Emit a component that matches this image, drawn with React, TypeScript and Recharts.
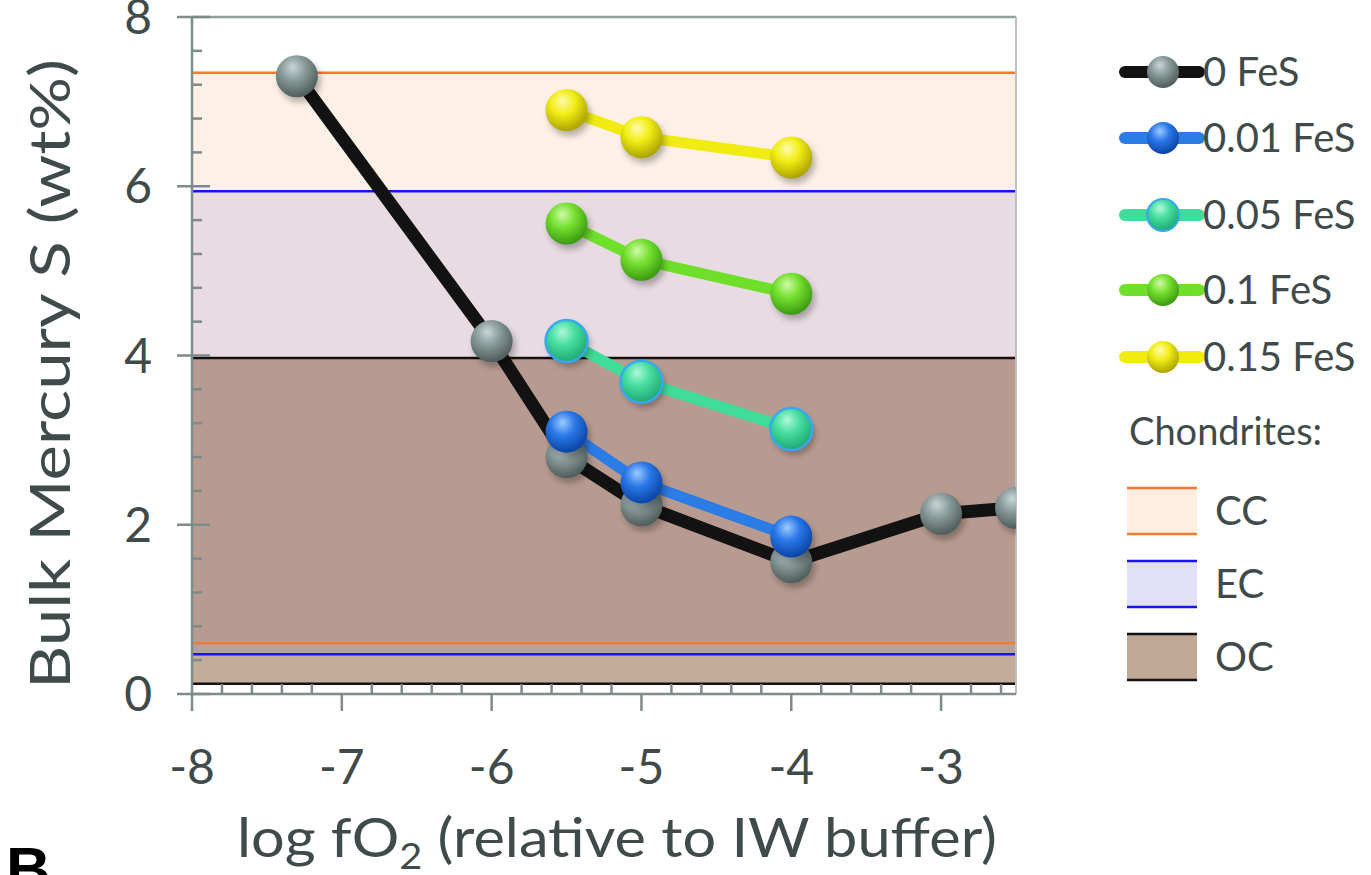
import React from "react";
import {
  Line,
  LineChart,
  ReferenceArea,
  ReferenceLine,
  XAxis,
  YAxis,
} from "recharts";

// log fO2 (relative to IW) and bulk S (wt%)
const fo2Base = [-7.3, -6, -5.5, -5, -4, -3, -2.5];
const sulfur0 = [7.3, 4.17, 2.8, 2.23, 1.56, 2.13, 2.2];

const fo2FeS = [-5.5, -5, -4];
const sulfur001 = [3.1, 2.5, 1.86];
const sulfur005 = [4.17, 3.69, 3.13];
const sulfur01 = [5.56, 5.13, 4.73];
const sulfur015 = [6.9, 6.58, 6.34];

// chondrite ranges
const bandNames = ["CC", "EC", "OC"];
const bandLow = [0.6, 0.47, 0.12];
const bandHigh = [7.34, 5.94, 3.97];

const xTicks = [
  -8, -7.8, -7.6, -7.4, -7.2, -7, -6.8, -6.6, -6.4, -6.2, -6, -5.8, -5.6,
  -5.4, -5.2, -5, -4.8, -4.6, -4.4, -4.2, -4, -3.8, -3.6, -3.4, -3.2, -3,
  -2.8, -2.6,
];
const yTicks = [
  0, 0.4, 0.8, 1.2, 1.6, 2, 2.4, 2.8, 3.2, 3.6, 4, 4.4, 4.8, 5.2, 5.6, 6,
  6.4, 6.8, 7.2, 7.6, 8,
];

const FONT = "Lato, 'Open Sans', sans-serif";
const INK = "#3f4a4a";
const AXIS = "#7d8b8a";

const bandEdge: Record<string, string> = {
  CC: "#f47a2c",
  EC: "#1414f5",
  OC: "#111111",
};
const bandFill: Record<string, string> = {
  CC: "#fdf1e7",
  "CC+EC": "#e8dce2",
  "CC+EC+OC": "#b89b90",
  "EC+OC": "#b3a1a7",
  OC: "#c3ad9a",
};
const legendBoxFill: Record<string, string> = {
  CC: "#fdeedf",
  EC: "#e2e0f8",
  OC: "#bfa894",
};

type Series = {
  name: string;
  xs: number[];
  ys: number[];
  line: string;
  width: number;
  grad: string;
  rim?: string;
};

const series: Series[] = [
  { name: "0 FeS", xs: fo2Base, ys: sulfur0, line: "#121212", width: 13, grad: "gGray" },
  { name: "0.01 FeS", xs: fo2FeS, ys: sulfur001, line: "#2c7ce6", width: 11, grad: "gBlue" },
  { name: "0.05 FeS", xs: fo2FeS, ys: sulfur005, line: "#3fdc9a", width: 11, grad: "gTeal", rim: "#38a8f0" },
  { name: "0.1 FeS", xs: fo2FeS, ys: sulfur01, line: "#6ee02a", width: 11, grad: "gGreen" },
  { name: "0.15 FeS", xs: fo2FeS, ys: sulfur015, line: "#f0ec12", width: 11, grad: "gYellow" },
];

const gradients: [string, string, string, string][] = [
  ["gGray", "#c9d6d6", "#889a9a", "#4f5d5b"],
  ["gBlue", "#9ccbff", "#2a78e8", "#0b44a6"],
  ["gTeal", "#b2f7dc", "#45de9f", "#1fa874"],
  ["gGreen", "#d2f9aa", "#74e02e", "#3c9a12"],
  ["gYellow", "#fffbb0", "#f1ed14", "#aca400"],
];

// split the overlapping chondrite ranges into flat coloured zones
function zones() {
  const edges = Array.from(new Set([...bandLow, ...bandHigh])).sort((a, b) => a - b);
  const out: { y1: number; y2: number; fill: string }[] = [];
  for (let i = 0; i < edges.length - 1; i++) {
    const mid = (edges[i] + edges[i + 1]) / 2;
    const key = bandNames.filter((_, j) => mid > bandLow[j] && mid < bandHigh[j]).join("+");
    if (bandFill[key]) out.push({ y1: edges[i], y2: edges[i + 1], fill: bandFill[key] });
  }
  return out;
}

function Sphere(props: any) {
  const { cx, cy, grad, rim, r = 21 } = props;
  if (cx == null || cy == null) return null;
  return (
    <g>
      <circle cx={cx + 3} cy={cy + 5} r={r} fill="rgba(0,0,0,0.28)" filter="url(#soft)" />
      <circle cx={cx} cy={cy} r={r} fill={`url(#${grad})`} stroke={rim ?? "none"} strokeWidth={rim ? 2.5 : 0} />
    </g>
  );
}

function XTick(props: any) {
  const { x, y, payload } = props;
  const v = payload.value as number;
  const major = Math.abs(v - Math.round(v)) < 1e-6;
  return (
    <g>
      {major ? (
        <>
          <line x1={x} x2={x} y1={y} y2={y + 17} stroke={AXIS} strokeWidth={2.5} />
          <text x={x} y={y + 90} textAnchor="middle" fontSize={48} fill={INK} fontFamily={FONT}>
            {v}
          </text>
        </>
      ) : (
        <line x1={x} x2={x} y1={y - 10} y2={y} stroke={AXIS} strokeWidth={2.5} />
      )}
    </g>
  );
}

function YTick(props: any) {
  const { x, y, payload } = props;
  const v = payload.value as number;
  const major = Math.abs(v / 2 - Math.round(v / 2)) < 1e-6;
  return (
    <g>
      {major ? (
        <>
          <line x1={x - 15} x2={x + 18} y1={y} y2={y} stroke={AXIS} strokeWidth={2.5} />
          <text x={x - 40} y={y + 17} textAnchor="end" fontSize={48} fill={INK} fontFamily={FONT}>
            {v}
          </text>
        </>
      ) : (
        <line x1={x} x2={x + 10} y1={y} y2={y} stroke={AXIS} strokeWidth={2.5} />
      )}
    </g>
  );
}

function LegendBox() {
  return (
    <svg width={250} height={660} style={{ position: "absolute", left: 1117, top: 40, overflow: "visible" }}>
      {series.map((s, i) => {
        const cy = [32, 98, 175, 250, 317][i];
        return (
          <g key={s.name}>
            <line x1={8} x2={82} y1={cy} y2={cy} stroke={s.line} strokeWidth={12} strokeLinecap="round" />
            <circle cx={46} cy={cy} r={16} fill={`url(#${s.grad})`} stroke={s.rim ?? "none"} strokeWidth={s.rim ? 2 : 0} />
            <text x={86} y={cy + 14} fontSize={40} fill={INK} fontFamily={FONT}>
              {s.name}
            </text>
          </g>
        );
      })}
      <text x={12} y={405} fontSize={38} fill={INK} fontFamily={FONT}>
        Chondrites:
      </text>
      {bandNames.map((b, i) => {
        const top = 448 + i * 73;
        return (
          <g key={b}>
            <rect x={10} y={top} width={70} height={46} fill={legendBoxFill[b]} />
            <line x1={10} x2={80} y1={top} y2={top} stroke={bandEdge[b]} strokeWidth={2.5} />
            <line x1={10} x2={80} y1={top + 46} y2={top + 46} stroke={bandEdge[b]} strokeWidth={2.5} />
            <text x={98} y={top + 37} fontSize={40} fill={INK} fontFamily={FONT}>
              {b}
            </text>
          </g>
        );
      })}
    </svg>
  );
}

export default function App() {
  const areas = zones();
  return (
    <div style={{ position: "absolute", left: 0, top: 0, width: 1371, height: 875, overflow: "hidden", background: "#fff" }}>
      <LineChart
        width={1371}
        height={875}
        margin={{ top: 17, right: 355, bottom: 81, left: 112 }}
      >
        <defs>
          {gradients.map(([id, hi, mid, lo]) => (
            <radialGradient key={id} id={id} cx="42%" cy="34%" r="66%" fx="40%" fy="28%">
              <stop offset="0%" stopColor={hi} />
              <stop offset="45%" stopColor={mid} />
              <stop offset="100%" stopColor={lo} />
            </radialGradient>
          ))}
          <filter id="soft" x="-50%" y="-50%" width="200%" height="200%">
            <feGaussianBlur stdDeviation="3" />
          </filter>
        </defs>
        <XAxis
          type="number"
          dataKey="x"
          domain={[-8, -2.5]}
          ticks={xTicks}
          interval={0}
          allowDataOverflow
          height={100}
          tickLine={false}
          tickSize={0}
          tickMargin={0}
          axisLine={{ stroke: AXIS, strokeWidth: 2.5 }}
          tick={<XTick />}
          label={{
            position: "insideBottom",
            content: () => (
              <text
                x={617}
                y={857}
                textAnchor="middle"
                fontSize={54}
                fill={INK}
                fontFamily={FONT}
                textLength={760}
                lengthAdjust="spacingAndGlyphs"
              >
                <tspan>log fO</tspan>
                <tspan fontSize={36} dy={12}>2</tspan>
                <tspan dy={-12}> (relative to IW buffer)</tspan>
              </text>
            ),
          }}
        />
        <YAxis
          type="number"
          domain={[0, 8]}
          ticks={yTicks}
          interval={0}
          width={80}
          tickLine={false}
          tickSize={0}
          tickMargin={0}
          axisLine={{ stroke: AXIS, strokeWidth: 2.5 }}
          tick={<YTick />}
          label={{
            position: "insideLeft",
            content: () => (
              <text
                x={70}
                y={374}
                transform="rotate(-90 70 374)"
                textAnchor="middle"
                fontSize={56}
                fill={INK}
                fontFamily={FONT}
                textLength={630}
                lengthAdjust="spacingAndGlyphs"
              >
                Bulk Mercury S (wt%)
              </text>
            ),
          }}
        />
        {areas.map((a, i) => (
          <ReferenceArea key={i} y1={a.y1} y2={a.y2} x1={-8} x2={-2.5} fill={a.fill} fillOpacity={1} stroke="none" ifOverflow="hidden" />
        ))}
        {bandNames.map((b, i) => (
          <ReferenceLine key={b + "lo"} y={bandLow[i]} stroke={bandEdge[b]} strokeWidth={2.5} />
        ))}
        {bandNames.map((b, i) => (
          <ReferenceLine key={b + "hi"} y={bandHigh[i]} stroke={bandEdge[b]} strokeWidth={2.5} />
        ))}
        <ReferenceLine y={8} stroke="#8fa09a" strokeWidth={2.5} />
        <ReferenceLine x={-2.5} stroke="#b9c2c2" strokeWidth={2} />
        {series.map((s) => (
          <Line
            key={s.name}
            name={s.name}
            data={s.xs.map((x, i) => ({ x, y: s.ys[i] }))}
            dataKey="y"
            type="linear"
            stroke={s.line}
            strokeWidth={s.width}
            strokeLinejoin="round"
            dot={(p: any) => <Sphere key={p.index} cx={p.cx} cy={p.cy} grad={s.grad} rim={s.rim} />}
            activeDot={false}
            isAnimationActive={false}
          />
        ))}
      </LineChart>
      <LegendBox />
      <div
        style={{
          position: "absolute",
          left: 6,
          top: 838,
          fontFamily: "'Liberation Sans', Arial, sans-serif",
          fontWeight: 700,
          fontSize: 62,
          color: "#000",
          lineHeight: 1,
        }}
      >
        B
      </div>
    </div>
  );
}
